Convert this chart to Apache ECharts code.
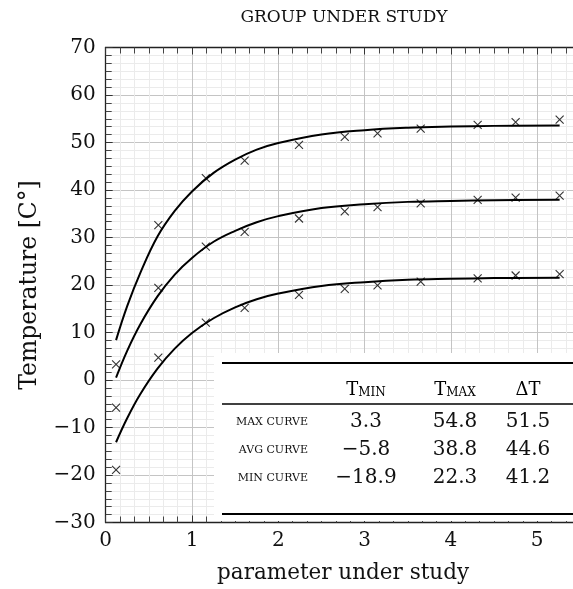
<!DOCTYPE html>
<html>
<head>
<meta charset="utf-8">
<script src="https://cdn.jsdelivr.net/npm/echarts@6/dist/echarts.min.js"></script>
<style>
  html, body { margin: 0; padding: 0; background: #fff; overflow: hidden; }
  #chart { width: 624px; height: 589px; }
</style>
</head>
<body>
<div id="chart"></div>
<script>
// measured points (crosses)
const sampleX = [0.12, 0.61, 1.16, 1.61, 2.24, 2.77, 3.15, 3.65, 4.31, 4.75, 5.26];
const sampleMax = [3.3, 32.6, 42.5, 46.2, 49.5, 51.2, 51.9, 52.9, 53.7, 54.3, 54.8];
const sampleAvg = [-5.8, 19.4, 28.1, 31.2, 34.0, 35.5, 36.4, 37.2, 37.9, 38.4, 38.8];
const sampleMin = [-18.9, 4.7, 12.1, 15.2, 17.9, 19.2, 19.9, 20.7, 21.4, 22.0, 22.3];

// fitted curves
const fitX = [0.12, 0.25, 0.4, 0.6, 0.8, 1.0, 1.25, 1.5, 1.75, 2.0, 2.5, 3.0, 3.5, 4.0, 4.5, 5.26];
const fitMax = [8.4, 15.6, 22.5, 30.2, 35.6, 39.7, 43.6, 46.4, 48.5, 49.9, 51.7, 52.6, 53.1, 53.35, 53.5, 53.6];
const fitAvg = [0.5, 6.2, 11.7, 17.6, 22.2, 25.7, 29.1, 31.4, 33.2, 34.5, 36.2, 37.0, 37.5, 37.7, 37.85, 37.95];
const fitMin = [-13.1, -8.0, -3.0, 2.4, 6.6, 9.9, 13.0, 15.3, 17.0, 18.2, 19.8, 20.6, 21.1, 21.3, 21.45, 21.55];

// table
const rowNames = ["MAX CURVE", "AVG CURVE", "MIN CURVE"];
const tMin = [3.3, -5.8, -18.9];
const tMax = [54.8, 38.8, 22.3];
const deltaT = [51.5, 44.6, 41.2];

const font = "DejaVu Serif";
const ink = "#111";
const fmt = (v) => (v < 0 ? "\u2212" + Math.abs(v) : String(v));
const fmt1 = (v) => (v < 0 ? "\u2212" + Math.abs(v).toFixed(1) : v.toFixed(1));
const pairs = (xs, ys) => xs.map((x, i) => [x, ys[i]]);

const cross = "path://M0,0L10,10M10,0L0,10";

const tick = { inside: true, length: 7, lineStyle: { color: "#333", width: 1 } };
const minor = { show: true, splitNumber: 6, length: 6, lineStyle: { color: "#444", width: 1 } };
const edge = { show: true, onZero: false, lineStyle: { color: "#222", width: 1.3 } };

const lineSeries = (data) => ({
  type: "line",
  data,
  smooth: 0.4,
  showSymbol: false,
  lineStyle: { color: "#000", width: 2 },
  z: 3,
});
const crossSeries = (data) => ({
  type: "scatter",
  data,
  symbol: cross,
  symbolSize: 8,
  itemStyle: { color: "transparent", borderColor: "#000", borderWidth: 1.1 },
  z: 4,
});

// table layout
const tbl = { left: 214, top: 353, right: 624, bottom: 521, ruleX: 222 };
const colX = { name: 308, min: 366, max: 455, dt: 528 };
const headY = 390;
const rowY = [422, 450, 478];

const textEl = (x, y, text, size, align) => ({
  type: "text",
  x,
  y,
  z: 101,
  style: {
    text,
    fill: ink,
    fontFamily: font,
    fontSize: size,
    align: align || "center",
    verticalAlign: "middle",
  },
});
const rule = (y, w) => ({
  type: "line",
  z: 101,
  shape: { x1: tbl.ruleX, y1: y, x2: tbl.right, y2: y },
  style: { stroke: "#000", lineWidth: w },
});
const headEl = (x, main, sub) => ({
  type: "text",
  x,
  y: headY,
  z: 101,
  style: {
    text: sub ? `{t|${main}}{s|${sub}}` : `{t|${main}}`,
    align: "center",
    verticalAlign: "middle",
    rich: {
      t: { fontFamily: font, fontSize: 18, color: ink, verticalAlign: "bottom" },
      s: { fontFamily: font, fontSize: 12, color: ink, verticalAlign: "bottom" },
    },
  },
});

const graphic = [
  textEl(344, 18, "GROUP UNDER STUDY", 17),
  {
    type: "rect",
    z: 100,
    shape: { x: tbl.left, y: tbl.top, width: tbl.right - tbl.left, height: tbl.bottom - tbl.top },
    style: { fill: "#fff" },
  },
  rule(363, 2),
  rule(404, 1.4),
  rule(514, 2),
  headEl(colX.min, "T", "MIN"),
  headEl(colX.max, "T", "MAX"),
  headEl(colX.dt, "\u0394T"),
];
rowNames.forEach((name, i) => {
  graphic.push(textEl(colX.name, rowY[i], name, 11, "right"));
  graphic.push(textEl(colX.min, rowY[i], fmt1(tMin[i]), 20));
  graphic.push(textEl(colX.max, rowY[i], fmt1(tMax[i]), 20));
  graphic.push(textEl(colX.dt, rowY[i], fmt1(deltaT[i]), 20));
});

const chart = echarts.init(document.getElementById("chart"), null, { renderer: "canvas" });

chart.setOption({
  animation: false,
  backgroundColor: "#fff",
  // the plot runs past the right edge of the window, as in the reference
  grid: { left: 105.7, top: 47.5, right: 0.5, bottom: 66.5, outerBoundsMode: "none", containLabel: false },
  xAxis: [
    {
      type: "value",
      min: 0,
      max: 6,
      interval: 1,
      position: "bottom",
      name: "parameter under study",
      nameLocation: "middle",
      nameGap: 40,
      nameTextStyle: { fontFamily: font, fontSize: 21.5, color: ink, padding: [0, 43, 0, 0] },
      axisLine: edge,
      axisTick: tick,
      minorTick: minor,
      axisLabel: { fontFamily: font, fontSize: 20, color: ink, margin: 8, formatter: fmt },
      splitLine: { show: true, lineStyle: { color: "#c4c4c4", width: 1 } },
      minorSplitLine: { show: true, lineStyle: { color: "#ebebeb", width: 1 } },
    },
    {
      type: "value",
      min: 0,
      max: 6,
      interval: 1,
      position: "top",
      axisLine: edge,
      axisTick: tick,
      minorTick: minor,
      axisLabel: { show: false },
      splitLine: { show: false },
      minorSplitLine: { show: false },
    },
  ],
  yAxis: {
    type: "value",
    min: -30,
    max: 70,
    interval: 10,
    name: "Temperature [C°]",
    nameLocation: "middle",
    nameGap: 64,
    nameTextStyle: { fontFamily: font, fontSize: 23.5, color: ink },
    axisLine: edge,
    axisTick: tick,
    minorTick: minor,
    axisLabel: { fontFamily: font, fontSize: 20, color: ink, margin: 10, formatter: fmt },
    splitLine: { show: true, lineStyle: { color: "#c4c4c4", width: 1 } },
    minorSplitLine: { show: true, lineStyle: { color: "#ebebeb", width: 1 } },
  },
  series: [
    lineSeries(pairs(fitX, fitMax)),
    lineSeries(pairs(fitX, fitAvg)),
    lineSeries(pairs(fitX, fitMin)),
    crossSeries(pairs(sampleX, sampleMax)),
    crossSeries(pairs(sampleX, sampleAvg)),
    crossSeries(pairs(sampleX, sampleMin)),
  ],
  graphic,
});
</script>
</body>
</html>
